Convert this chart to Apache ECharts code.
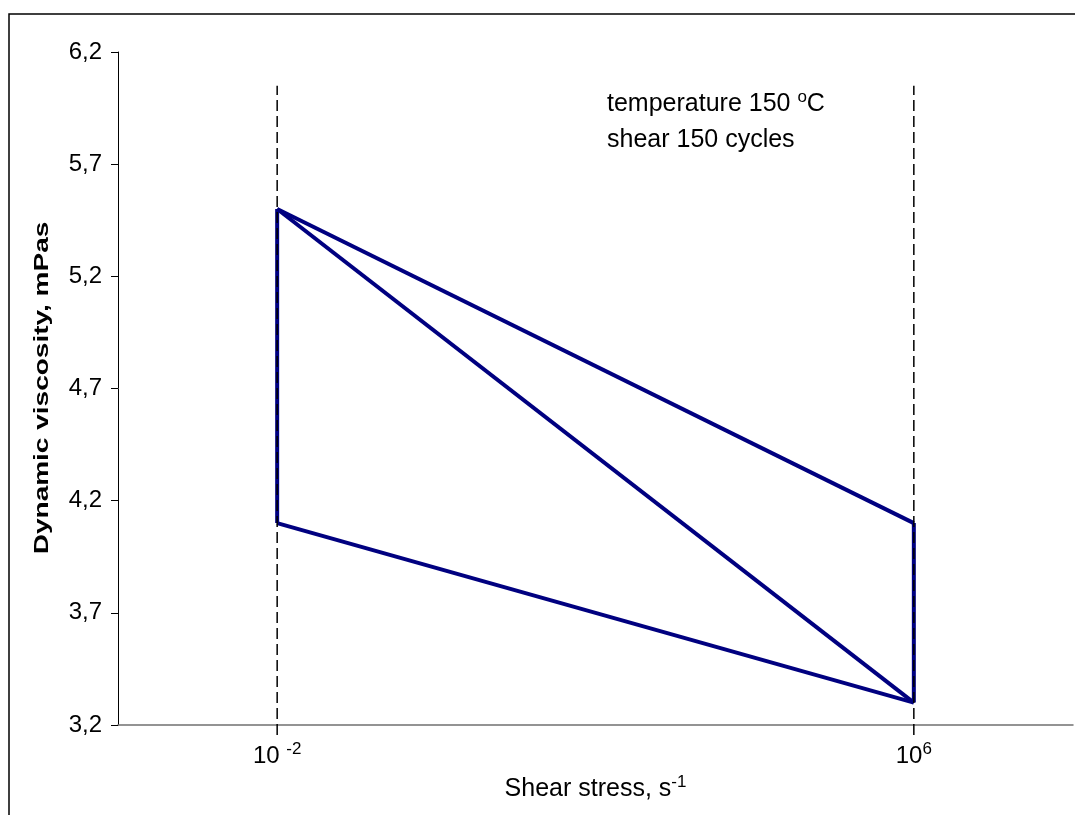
<!DOCTYPE html>
<html>
<head>
<meta charset="utf-8">
<script src="https://cdn.jsdelivr.net/npm/echarts@6/dist/echarts.min.js"></script>
<style>
html,body{margin:0;padding:0;background:#fff;}
#chart{width:1075px;height:815px;}
</style>
</head>
<body>
<div id="chart"></div>
<script>
// exponents of shear stress (10^x)
const xExponent = [-2, 6];
const upperBranch = [5.5, 4.1];
const diagonalBranch = [5.5, 3.3];
const lowerBranch = [4.1, 3.3];
const leftEdge = [4.1, 5.5];   // at 10^-2
const rightEdge = [3.3, 4.1];  // at 10^6
const guideRange = [3.155, 6.05];
const yTicks = [3.2, 3.7, 4.2, 4.7, 5.2, 5.7, 6.2];
const xTicks = [-2, 6];
const annotationLines = ['temperature 150 {sup|o}C', 'shear 150 cycles'];

const NAVY = '#000080';
const FONT = '"Liberation Sans", Arial, sans-serif';

function pairs(xs, ys) { return xs.map((x, i) => [x, ys[i]]); }

const chart = echarts.init(document.getElementById('chart'));
const navyStyle = { color: NAVY, width: 4 };
const navySeries = (name, data) => ({
  name, type: 'line', data, symbol: 'none', z: 2,
  lineStyle: navyStyle, animation: false, silent: true
});
const guideSeries = (x) => ({
  type: 'line', data: [[x, guideRange[0]], [x, guideRange[1]]], symbol: 'none', z: 3,
  clip: false, lineStyle: { color: '#000', width: 1.5, type: [11, 5] },
  animation: false, silent: true
});
const supStyle = { fontSize: 17, color: '#000', fontFamily: FONT, padding: [0, 0, 14, 0] };

chart.setOption({
  backgroundColor: '#fff',
  animation: false,
  textStyle: { fontFamily: FONT },
  grid: { left: 118, right: 2, top: 52, bottom: 90 },
  xAxis: {
    type: 'value', min: -4, max: 8,
    splitLine: { show: false },
    axisTick: { show: false },
    axisLine: { onZero: false, lineStyle: { color: '#707070', width: 1.5 } },
    axisLabel: {
      customValues: xTicks,
      margin: 16,
      fontSize: 24, color: '#000', fontFamily: FONT,
      formatter: v => '10' + (v < 0 ? ' ' : '') + '{sup|' + v + '}',
      rich: { sup: supStyle }
    },
    name: 'Shear stress, s{sup|-1}',
    nameLocation: 'middle', nameGap: 36,
    nameTextStyle: {
      fontSize: 25, color: '#000', fontFamily: FONT,
      rich: { sup: supStyle }
    }
  },
  yAxis: {
    type: 'value', min: 3.2, max: 6.2,
    splitLine: { show: false },
    axisLine: { show: true, onZero: false, lineStyle: { color: '#000', width: 1 } },
    axisTick: { show: true, customValues: yTicks, length: 7, lineStyle: { color: '#000' } },
    axisLabel: {
      customValues: yTicks, margin: 16,
      fontSize: 24, color: '#000', fontFamily: FONT,
      formatter: v => v.toFixed(1).replace('.', ',')
    }
  },
  graphic: [
    { type: 'rect', silent: true, z: -1,
      shape: { x: 9, y: 14, width: 1100, height: 900 },
      style: { fill: null, stroke: '#000', lineWidth: 1.5 } },
    { type: 'text', silent: true, x: 42, y: 388, rotation: Math.PI / 2, scaleX: 1.4,
      style: { text: 'Dynamic viscosity, mPas', font: 'bold 20px ' + FONT,
               fill: '#000', textAlign: 'center', textVerticalAlign: 'middle' } },
    { type: 'text', silent: true, x: 607, y: 104,
      style: { text: annotationLines[0], font: '25px ' + FONT, fill: '#000',
               textAlign: 'left', textVerticalAlign: 'middle',
               rich: { sup: { fontSize: 17, fontFamily: FONT, fill: '#000', padding: [0, 0, 14, 0] } } } },
    { type: 'text', silent: true, x: 607, y: 140,
      style: { text: annotationLines[1], font: '25px ' + FONT, fill: '#000',
               textAlign: 'left', textVerticalAlign: 'middle' } }
  ],
  series: [
    navySeries('upper', pairs(xExponent, upperBranch)),
    navySeries('diagonal', pairs(xExponent, diagonalBranch)),
    navySeries('lower', pairs(xExponent, lowerBranch)),
    navySeries('left', [[xExponent[0], leftEdge[0]], [xExponent[0], leftEdge[1]]]),
    navySeries('right', [[xExponent[1], rightEdge[0]], [xExponent[1], rightEdge[1]]]),
    guideSeries(xExponent[0]),
    guideSeries(xExponent[1])
  ]
});
</script>
</body>
</html>
